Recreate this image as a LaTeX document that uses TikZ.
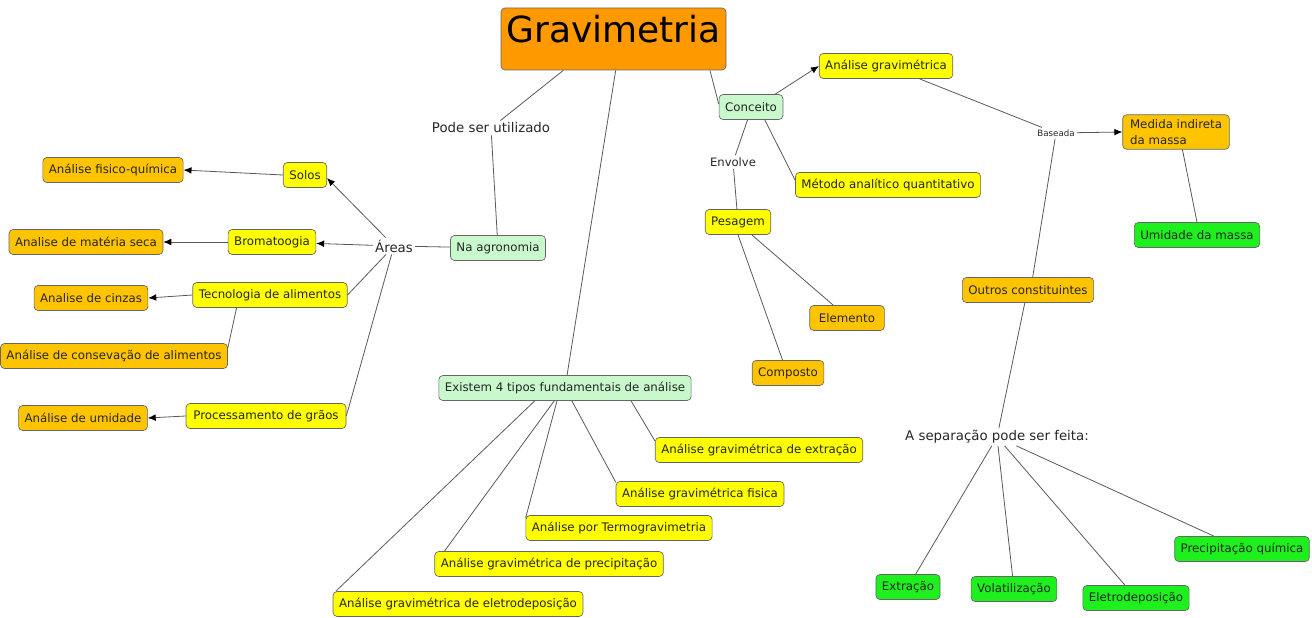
\documentclass[tikz,border=0pt]{standalone}
\usepackage{fontspec}
\setmainfont{DejaVu Sans}
\usetikzlibrary{arrows.meta}
\definecolor{cLaranja}{HTML}{FF9900}
\definecolor{cAmarelo}{HTML}{FFFF00}
\definecolor{cOuro}{HTML}{FFC400}
\definecolor{cVerdeClaro}{HTML}{C8F8CC}
\definecolor{cVerde}{HTML}{1EF01E}

\begin{document}
\begin{tikzpicture}[x=0.75pt,y=0.75pt,yscale=-1,xscale=1,
    caixa/.style={draw=black!60,rounded corners=3pt,line width=0.5pt,text=black!85,
      font=\fontsize{8.85}{12}\selectfont,inner xsep=4.5pt,inner ysep=2pt,minimum height=18.75pt},
    amarelo/.style={caixa,fill=cAmarelo},
    ouro/.style={caixa,fill=cOuro},
    verdeclaro/.style={caixa,fill=cVerdeClaro},
    verde/.style={caixa,fill=cVerde},
    titulo/.style={caixa,fill=cLaranja,font=\fontsize{27}{32}\selectfont,text=black,
      inner sep=0pt,minimum width=168.75pt,text height=26.25pt,text depth=20.25pt},
    rotulo/.style={font=\fontsize{10}{12}\selectfont,text=black!85,inner sep=1.5pt},
    liga/.style={draw=black!65,line width=0.6pt},
    seta/.style={liga,-{Latex[length=6pt,width=5pt,black]}}]
\useasboundingbox (0,0) rectangle (1312,617);

\node[titulo] (grav) at (613.5,39) {Gravimetria};
\node[rotulo] (pode) at (491,128) {Pode ser utilizado};
\node[verdeclaro] (agro) at (498,248) {Na agronomia};
\node[rotulo] (areas) at (394,246) {Áreas};
\node[amarelo] (solos) at (305,175) {Solos};
\node[ouro] (fisq) at (113,170) {Análise fisico-química};
\node[amarelo] (broma) at (272,242) {Bromatoogia};
\node[ouro] (seca) at (86,242) {Analise de matéria seca};
\node[amarelo] (tecno) at (270,295) {Tecnologia de alimentos};
\node[ouro] (cinzas) at (91,298) {Analise de cinzas};
\node[ouro] (conserv) at (114,356) {Análise de consevação de alimentos};
\node[amarelo,minimum width=120pt] (graos) at (266,416) {Processamento de grãos};
\node[ouro] (umid) at (83,418) {Análise de umidade};

\node[verdeclaro] (tipos) at (565,388) {Existem 4 tipos fundamentais de análise};
\node[amarelo] (extr) at (759,450) {Análise gravimétrica de extração};
\node[amarelo] (fis) at (700,494) {Análise gravimétrica fisica};
\node[amarelo] (termo) at (619,528) {Análise por Termogravimetria};
\node[amarelo] (precip) at (549,564) {Análise gravimétrica de precipitação};
\node[amarelo] (eletro) at (458,604) {Análise gravimétrica de eletrodeposição};

\node[verdeclaro] (conc) at (751,107) {Conceito};
\node[amarelo] (agrav) at (886,66) {Análise gravimétrica};
\node[rotulo,font=\fontsize{8.7}{10}\selectfont] (envolve) at (733,162) {Envolve};
\node[amarelo] (metodo) at (888,185) {Método analítico quantitativo};
\node[amarelo] (pesa) at (738,222) {Pesagem};
\node[ouro,minimum width=56pt] (elem) at (847,318) {Elemento};
\node[ouro] (comp) at (788,373) {Composto};

\node[rotulo,font=\fontsize{6.5}{8}\selectfont] (base) at (1056,133) {Baseada};
\node[ouro,align=left,inner ysep=3.5pt,minimum width=80pt] (medida) at (1176,132) {Medida indireta\\da massa};
\node[verde] (umass) at (1197,235) {Umidade da massa};
\node[ouro] (outros) at (1028,290) {Outros constituintes};
\node[rotulo] (separa) at (997,437) {A separação pode ser feita:};
\node[verde] (extracao) at (908,587) {Extração};
\node[verde] (volat) at (1014,589) {Volatilização};
\node[verde] (eletrod) at (1136,598) {Eletrodeposição};
\node[verde] (pquim) at (1242,549) {Precipitação química};

\draw[liga] (grav.212) -- (pode) -- (agro);
\draw[liga] (agro) -- (areas);
\draw[seta] (areas) -- (solos.-8);
\draw[seta] (areas) -- (broma);
\draw[liga] (areas) -- (tecno.east);
\draw[liga] (areas) -- (graos.east);
\draw[seta] (solos.west) -- (fisq.east);
\draw[seta] (broma.west) -- (seca.east);
\draw[seta] (tecno.west) -- (cinzas.east);
\draw[liga] (tecno.201) -- (conserv.4);
\draw[seta] (graos.west) -- (umid.east);

\draw[liga] (grav.-86) -- (tipos);
\draw[liga] (tipos.-11) -- (extr.175);
\draw[liga] (tipos.-62) -- (fis.172);
\draw[liga] (tipos.238) -- (termo.174);
\draw[liga] (tipos.230) -- (precip.173);
\draw[liga] (tipos.203) -- (eletro.174);

\draw[liga] (grav.-18) -- (conc.175);
\draw[seta] (conc.28) -- (agrav.west);
\draw[liga] (conc.255) -- (envolve) -- (pesa);
\draw[liga] (conc.-43) -- (metodo.177);
\draw[liga] (pesa.-43) -- (elem.137);
\draw[liga] (pesa.south) -- (comp.113);

\draw[liga] (agrav.-21) -- (base);
\draw[seta] (base) -- (medida.west);
\draw[liga] (base) -- (outros.70);
\draw[liga] (medida.-70) -- (umass.north);
\draw[liga] (outros.256) -- (separa);
\draw[liga] (separa) -- (extracao);
\draw[liga] (separa) -- (volat);
\draw[liga] (separa) -- (eletrod);
\draw[liga] (separa) -- (pquim);
\end{tikzpicture}
\end{document}
